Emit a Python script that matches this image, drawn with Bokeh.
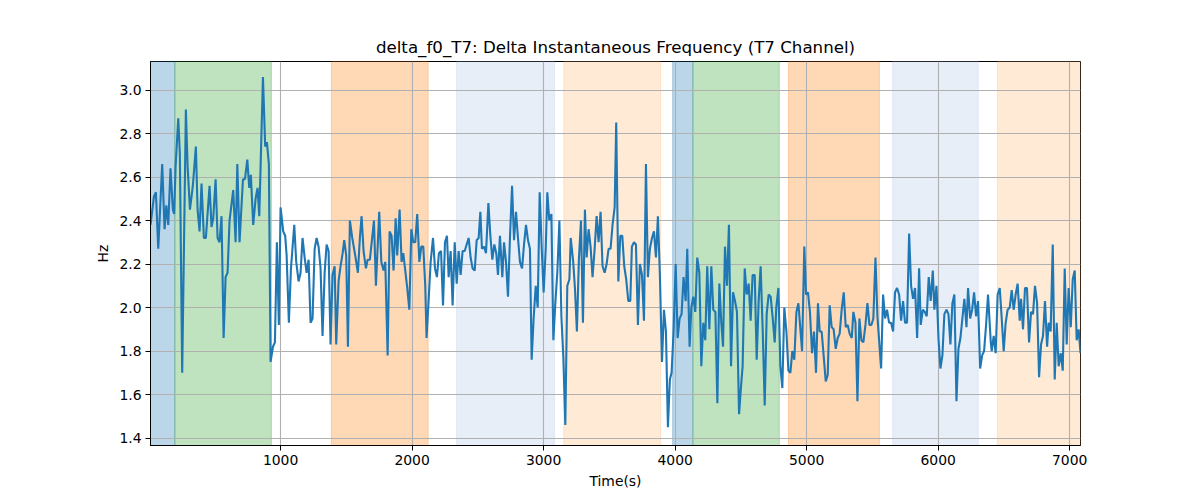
from bokeh.plotting import figure
from bokeh.models import Range1d, BoxAnnotation, NumeralTickFormatter
from bokeh.embed import file_html
from bokeh.resources import INLINE

# seconds
time_s = [
    11, 37, 52, 70, 100, 118, 131, 146, 163, 181, 191, 202, 222, 234, 252, 280, 293, 311, 333, 356,
    369, 384, 399, 417, 432, 460, 475, 488, 506, 521, 536, 551, 567, 582, 597, 612, 640, 658, 671, 688,
    714, 729, 747, 762, 774, 792, 810, 825, 838, 866, 883, 896, 911, 924, 942, 957, 972, 987,
    1000, 1020, 1035, 1046, 1063, 1079, 1104, 1119, 1137, 1152, 1167, 1183, 1198, 1213, 1228, 1243,
    1259, 1274, 1289, 1304, 1319, 1335, 1350, 1365, 1380, 1395, 1411, 1423, 1441, 1456, 1472, 1484,
    1499, 1512, 1527, 1545, 1570, 1588, 1603, 1616, 1631, 1649, 1662, 1679, 1710, 1725, 1750, 1766,
    1783, 1796, 1814, 1829, 1844, 1859, 1875, 1887, 1905, 1920, 1933, 1948, 1963, 1979, 1994, 2009,
    2024, 2039, 2055, 2070, 2085, 2100, 2110, 2128, 2141,
    2159, 2174, 2189, 2204, 2220, 2235, 2250, 2265, 2278, 2293, 2308, 2324, 2339, 2354, 2369, 2384,
    2400, 2415, 2430, 2445, 2460, 2476, 2491, 2506, 2519, 2531, 2547, 2562, 2580, 2595, 2610, 2625,
    2640, 2653, 2668, 2686, 2699, 2714, 2729, 2744, 2760, 2775, 2790, 2805, 2820, 2836, 2851, 2866,
    2881, 2896, 2909, 2924, 2940, 2955, 2970, 2985, 3000, 3016, 3028, 3043, 3059, 3074, 3089, 3104,
    3120, 3135, 3150, 3165, 3180, 3196, 3206,
    3225, 3238, 3253, 3268, 3284, 3299, 3314, 3327, 3342, 3357, 3372, 3388, 3403, 3418, 3433, 3448,
    3464, 3479, 3494, 3509, 3524, 3540, 3552, 3568, 3583, 3598, 3613, 3628, 3644, 3659, 3671, 3687,
    3702, 3717, 3732, 3748, 3763, 3778, 3793, 3808, 3824, 3839, 3854, 3869, 3884, 3900, 3915, 3930,
    3945, 3960, 3973, 3988, 4004, 4019, 4034, 4049, 4064, 4080, 4092, 4110, 4123, 4138, 4153, 4168,
    4184, 4199, 4214, 4229, 4244, 4260,
    4275, 4290, 4306, 4321, 4336, 4351, 4364, 4379, 4394, 4409, 4425, 4440, 4455, 4470, 4486, 4501,
    4513, 4529, 4544, 4559, 4574, 4589, 4605, 4620, 4635, 4650, 4666, 4681, 4696, 4711, 4726, 4742,
    4757, 4769, 4785, 4800, 4815, 4830, 4846, 4861, 4876, 4891, 4906, 4922, 4937, 4965, 4982, 4995,
    5010, 5025, 5041, 5056, 5071, 5086, 5099, 5114, 5129, 5145, 5160, 5175, 5190, 5205, 5221, 5236,
    5251, 5266, 5282, 5297, 5312, 5327,
    5343, 5355, 5371, 5386, 5401, 5416, 5431, 5447, 5462, 5477, 5492, 5507, 5523, 5538, 5553, 5566,
    5581, 5596, 5611, 5627, 5642, 5657, 5672, 5687, 5703, 5718, 5733, 5748, 5763, 5779, 5794, 5809,
    5824, 5840, 5855, 5867, 5883, 5898, 5913, 5928, 5943, 5959, 5971, 5987, 6002, 6017, 6032, 6047,
    6063, 6078, 6093, 6108, 6123, 6139, 6154, 6169, 6184, 6199, 6215, 6227, 6243, 6258, 6273, 6288,
    6303, 6319, 6334, 6349, 6364, 6379, 6400,
    6407, 6422, 6437, 6452, 6468, 6483, 6498, 6513, 6528, 6544, 6559, 6574, 6589, 6604, 6620, 6630,
    6645, 6660, 6675, 6691, 6706, 6721, 6736, 6752, 6767, 6782, 6797, 6812, 6828, 6840, 6855, 6871,
    6886, 6901, 6916, 6932, 6947, 6962, 6977, 6992, 7008, 7023, 7038, 7053, 7068, 7082,
]

# Hz
delta_f0 = [
    2.38, 2.51, 2.53, 2.27, 2.66, 2.36, 2.47, 2.38, 2.64, 2.45, 2.43, 2.65, 2.87, 2.71, 1.70, 2.91, 2.65, 2.45, 2.56, 2.74,
    2.45, 2.35, 2.57, 2.32, 2.32, 2.56, 2.37, 2.41, 2.59, 2.32, 2.30, 2.42, 1.86, 2.14, 2.16, 2.40, 2.54, 2.30, 2.66, 2.30,
    2.59, 2.59, 2.68, 2.55, 2.61, 2.38, 2.50, 2.55, 2.42, 3.06, 2.74, 2.76, 2.66, 1.75, 1.82, 1.84, 2.30, 1.92,
    2.46, 2.35, 2.33, 2.24, 1.93, 2.18, 2.38, 2.21, 2.12, 2.16, 2.32, 2.23, 2.16, 2.22, 1.93, 1.95,
    2.27, 2.32, 2.28, 2.18, 1.87, 2.16, 2.29, 2.26, 1.83, 2.15, 2.19, 1.83, 2.12, 2.19, 2.25, 2.31,
    2.24, 1.82, 2.40, 2.32, 2.23, 2.16, 2.32, 2.42, 2.26, 2.18, 2.22, 2.22, 2.40, 2.10, 2.44, 2.21,
    2.17, 2.21, 1.78, 2.35, 2.33, 2.17, 2.41, 2.24, 2.45, 2.21, 2.25, 2.17, 2.09, 1.99, 2.36, 2.30,
    2.30, 2.43, 2.21, 2.28, 2.28, 2.10, 1.86, 2.06, 2.21,
    2.32, 2.18, 2.14, 2.25, 2.26, 2.01, 2.30, 2.33, 2.14, 2.26, 2.01, 2.30, 2.11, 2.26, 2.15, 2.26,
    2.26, 2.29, 2.32, 2.23, 2.18, 2.17, 2.31, 2.32, 2.44, 2.27, 2.28, 2.25, 2.48, 2.33, 2.22, 2.29,
    2.25, 2.15, 2.33, 2.14, 2.30, 2.21, 2.05, 2.32, 2.56, 2.31, 2.44, 2.32, 2.21, 2.18, 2.29, 2.38,
    2.31, 2.27, 1.76, 1.95, 2.10, 2.00, 2.53, 2.28, 2.07, 2.27, 2.53, 2.40, 2.43, 1.85, 2.02, 2.16,
    2.40, 1.96, 1.77, 1.46, 2.10, 2.13, 2.32,
    2.21, 2.09, 1.89, 2.22, 2.40, 1.93, 2.45, 2.23, 2.36, 2.28, 2.14, 2.27, 2.42, 2.30, 2.44, 2.19,
    2.16, 2.20, 2.27, 2.27, 2.38, 2.46, 2.85, 2.12, 2.33, 2.33, 2.19, 2.13, 2.03, 2.03, 2.28, 2.30,
    2.29, 1.92, 2.20, 2.15, 1.94, 2.66, 2.14, 2.27, 2.32, 2.35, 2.23, 2.42, 2.15, 1.75, 1.99, 1.89,
    1.45, 1.67, 1.70, 1.89, 2.20, 1.86, 1.95, 1.97, 2.14, 2.03, 2.27, 1.82, 2.00, 2.05, 1.98, 2.23,
    2.16, 1.73, 1.93, 1.85, 2.19, 1.90,
    2.19, 1.99, 1.98, 1.56, 2.11, 1.93, 1.82, 2.28, 2.10, 2.38, 1.73, 2.07, 2.03, 1.98, 1.51, 1.64,
    1.73, 2.18, 2.06, 2.11, 1.94, 2.15, 2.15, 1.76, 2.03, 2.19, 1.89, 1.55, 1.97, 2.06, 2.05, 1.95,
    1.84, 2.00, 2.09, 1.73, 1.63, 2.00, 1.89, 1.71, 1.70, 1.80, 1.76, 1.98, 2.02, 1.80, 2.28, 2.06,
    2.07, 1.98, 1.79, 1.89, 1.70, 2.02, 1.89, 1.89, 1.78, 1.66, 1.69, 2.01, 1.91, 1.90, 1.81, 1.86,
    1.88, 1.99, 2.07, 1.91, 1.92, 1.88,
    1.86, 1.98, 1.93, 1.57, 1.95, 1.85, 1.84, 1.92, 2.02, 1.92, 1.92, 1.95, 2.23, 1.96, 1.83, 1.72,
    2.06, 1.95, 1.99, 1.93, 1.93, 1.89, 2.07, 2.09, 2.06, 1.94, 2.03, 1.93, 1.93, 2.34, 2.10, 2.04,
    2.09, 1.86, 2.18, 1.92, 1.99, 1.98, 1.96, 2.14, 2.03, 2.17, 1.99, 2.10, 1.86, 1.72, 1.78, 1.97,
    1.99, 1.97, 1.83, 2.02, 2.06, 1.57, 1.81, 1.86, 1.95, 2.04, 1.91, 2.09, 1.95, 1.99, 2.07, 1.96,
    2.03, 1.72, 1.78, 1.80, 1.92, 2.06, 1.84,
    1.80, 1.87, 1.79, 2.06, 2.09, 1.95, 1.80, 1.93, 1.99, 2.00, 2.08, 1.99, 2.06, 2.11, 1.94, 2.04,
    1.90, 2.09, 2.09, 1.84, 1.98, 1.97, 2.10, 2.02, 1.68, 1.83, 1.87, 2.03, 1.82, 1.93, 1.89, 2.29,
    1.67, 1.93, 1.73, 1.79, 1.71, 2.18, 1.83, 2.09, 1.91, 2.13, 2.17, 1.85, 1.90, 1.79,
]

# shaded segments
span_start = [11, 196, 1386, 2338, 3153, 3981, 4135, 4861, 5654, 6450]
span_end = [196, 930, 2122, 3082, 3890, 4135, 4792, 5553, 6305, 7082]
span_color = ["#1f77b4", "#2ca02c", "#ff7f0e", "#aec7e8", "#ffbb78",
              "#1f77b4", "#2ca02c", "#ff7f0e", "#aec7e8", "#ffbb78"]

x_ticks = [1000, 2000, 3000, 4000, 5000, 6000, 7000]
y_ticks = [1.4, 1.6, 1.8, 2.0, 2.2, 2.4, 2.6, 2.8, 3.0]

FONT = "DejaVu Sans"

p = figure(width=1184, height=492, output_backend="svg", toolbar_location=None,
           x_range=Range1d(time_s[0], time_s[-1]), y_range=Range1d(1.366, 3.131),
           title="delta_f0_T7: Delta Instantaneous Frequency (T7 Channel)",
           min_border_left=150, min_border_right=104, min_border_top=61, min_border_bottom=47)

p.title.align = "center"
p.title.text_font = FONT
p.title.text_font_size = "16.67px"
p.title.text_font_style = "normal"
p.title.text_color = "black"
p.title.standoff = 9

for s, e, c in zip(span_start, span_end, span_color):
    p.add_layout(BoxAnnotation(left=s, right=e, fill_color=c, fill_alpha=0.3,
                               line_color=c, line_alpha=0.3, line_width=1, level="image"))

p.line(time_s, delta_f0, line_color="#1f77b4", line_width=2.1)

p.xaxis.ticker = x_ticks
p.yaxis.ticker = y_ticks
p.yaxis.formatter = NumeralTickFormatter(format="0.0")
p.xaxis.axis_label = "Time(s)"
p.yaxis.axis_label = "Hz"

for ax in (p.xaxis[0], p.yaxis[0]):
    ax.axis_label_text_font = FONT
    ax.axis_label_text_font_size = "13.9px"
    ax.axis_label_text_font_style = "normal"
    ax.axis_label_text_color = "black"
    ax.major_label_text_font = FONT
    ax.major_label_text_font_size = "13.9px"
    ax.major_label_text_color = "black"
    ax.axis_line_color = "black"
    ax.major_tick_line_color = "black"
    ax.major_tick_in = 0
    ax.major_tick_out = 5
    ax.minor_tick_line_color = None
    ax.major_label_standoff = 4
    ax.axis_label_standoff = 5

p.yaxis.axis_label_standoff = 5

p.grid.grid_line_color = "#b0b0b0"
p.grid.grid_line_width = 1.1
p.grid.grid_line_alpha = 1

p.outline_line_color = "black"
p.outline_line_alpha = 1
p.background_fill_color = "white"
p.border_fill_color = "white"

open("out.html", "w").write(file_html(p, INLINE))
